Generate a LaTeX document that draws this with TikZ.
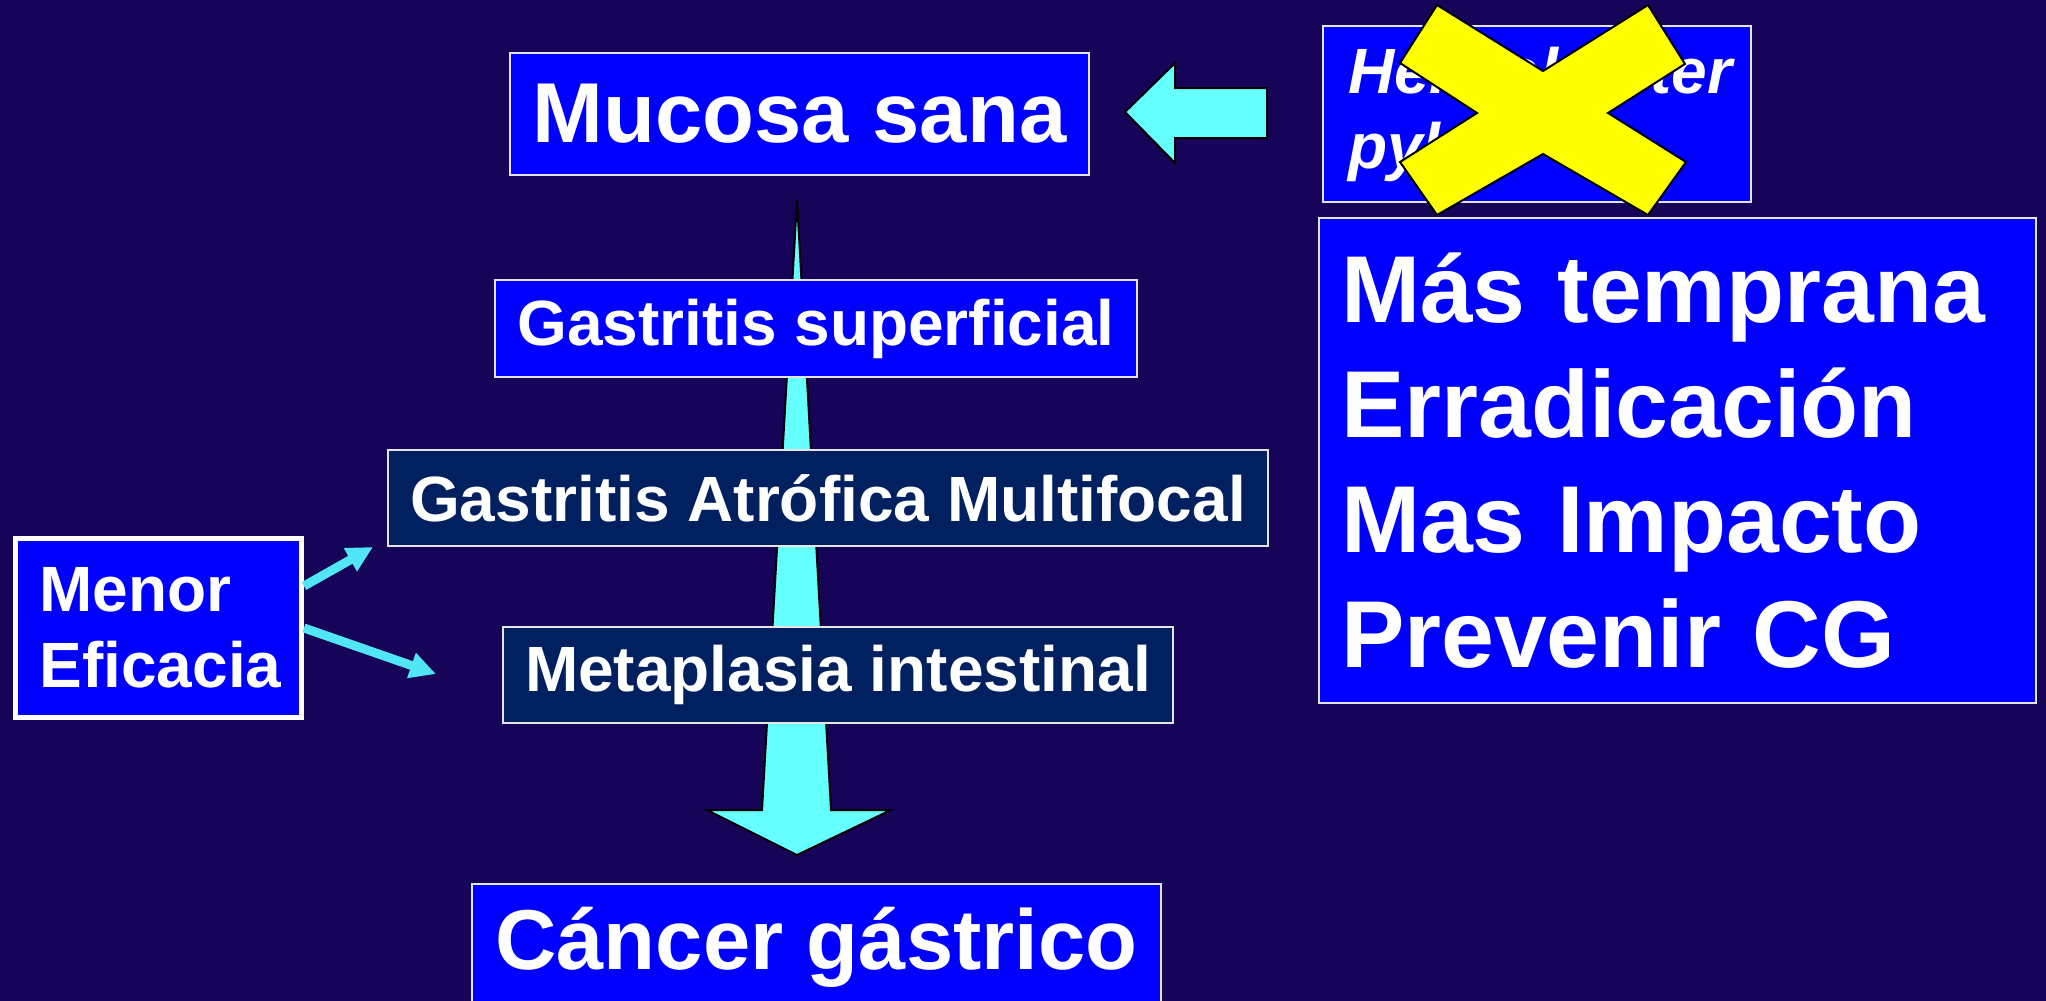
\documentclass[tikz,border=0pt]{standalone}
\usepackage{fontspec}
\setmainfont{Liberation Sans}
\usetikzlibrary{arrows.meta}
\definecolor{bgc}{RGB}{22,4,88}
\definecolor{boxblue}{RGB}{0,0,255}
\definecolor{boxnavy}{RGB}{0,32,96}
\definecolor{arrowcyan}{RGB}{102,255,255}
\definecolor{thincyan}{RGB}{80,230,245}
\definecolor{xyellow}{RGB}{255,255,0}
\definecolor{edgegray}{RGB}{228,228,228}
\begin{document}
\begin{tikzpicture}[x=1pt,y=-1pt,
  box/.style={draw=edgegray, line width=2pt, fill=boxblue, text=white,
    inner sep=0pt, anchor=north west},
  navybox/.style={box, fill=boxnavy},
  bigfont/.style={font=\fontsize{85pt}{100pt}\selectfont\bfseries},
  midfont/.style={font=\fontsize{64pt}{76pt}\selectfont\bfseries},
  shapearrow/.style={fill=arrowcyan, draw=black, line width=2pt, line join=miter},
  thinarrow/.style={draw=thincyan, line width=9pt, -{Triangle[length=26pt,width=25pt]}}
]
\fill[bgc] (0,0) rectangle (2046,1001);
\useasboundingbox (0,0) rectangle (2046,1001);

% big downward arrow (behind the boxes)
\draw[shapearrow] (797,200) -- (831,810) -- (891,810) -- (797,855) -- (707,810) -- (762,810) -- cycle;

% boxes
\node[box, bigfont, minimum width=579, minimum height=122] (mucosa) at (509,52) {Mucosa sana};
\node[box, midfont, minimum width=642, minimum height=97] (gsup) at (494,279) {Gastritis superficial};
\node[navybox, midfont, minimum width=880, minimum height=96] (gatro) at (387,449) {Gastritis Atrófica Multifocal};
\node[navybox, midfont, minimum width=670, minimum height=96] (meta) at (502,626) {Metaplasia intestinal};
\node[box, bigfont, minimum width=689, minimum height=126] (cancer) at (471,883) {Cáncer gástrico};

% Menor eficacia
\node[box, draw=white, line width=5pt, midfont, minimum width=286, minimum height=179,
  align=left, text width=238, inner xsep=24pt] (menor) at (13,536) {Menor\\Eficacia};
\coordinate (m1) at (373,547);
\coordinate (m2) at (436,674);
\draw[thinarrow] ([yshift=42pt]menor.east) -- (m1);
\draw[thinarrow] (menor.east) -- (m2);

% left-pointing arrow
\draw[shapearrow] (1125,112) -- (1175,63) -- (1175,88) -- (1267,88) -- (1267,138) -- (1175,138) -- (1175,163) -- cycle;

% Helicobacter box
\node[box, font=\fontsize{64pt}{75pt}\selectfont\bfseries\itshape, minimum width=428, minimum height=176,
  align=left, text width=378, inner xsep=25pt] (helico) at (1322,25) {\raisebox{-3pt}{Helicobacter}\\\raisebox{-3pt}{pylori}};

% right box
\node[box, font=\fontsize{95pt}{115pt}\selectfont\bfseries, minimum width=717, minimum height=485,
  align=left, text width=673, inner xsep=22pt] (mas) at (1318,217)
  {Más temprana\\Erradicación\\Mas Impacto\\Prevenir CG};

% yellow cross
\draw[fill=xyellow, draw=black, line width=2pt, line join=miter]
  (1437,5) -- (1543,71) -- (1648,5) -- (1685,64) -- (1608,113) -- (1686,162) -- (1648,215)
  -- (1543,154) -- (1437,215) -- (1400,162) -- (1477,113) -- (1400,63) -- cycle;
\end{tikzpicture}
\end{document}
